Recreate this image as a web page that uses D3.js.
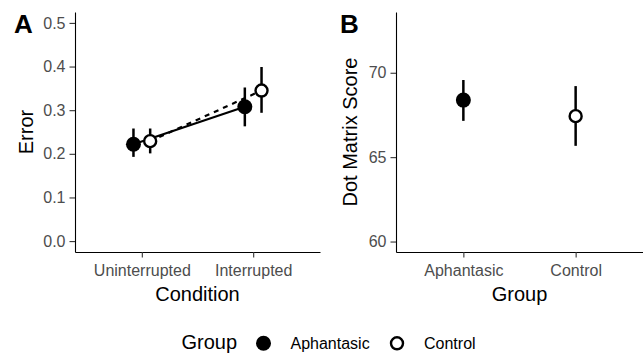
<!DOCTYPE html>
<html>
<head>
<meta charset="utf-8">
<script src="https://cdn.jsdelivr.net/npm/d3@7"></script>
<style>
  body { margin: 0; background: #fff; }
  svg { display: block; font-family: "Liberation Sans", Arial, sans-serif; }
</style>
</head>
<body>
<div id="chart"></div>
<script>
const width = 643;
const height = 354;

// data
const conditions = ['Uninterrupted', 'Interrupted'];
const groups = ['Aphantasic', 'Control'];

const aphErrMean = [0.222, 0.308];
const aphErrLo = [0.193, 0.263];
const aphErrHi = [0.258, 0.352];
const conErrMean = [0.229, 0.345];
const conErrLo = [0.201, 0.294];
const conErrHi = [0.258, 0.399];

const dotMean = [68.38, 67.43];
const dotLo = [67.15, 65.67];
const dotHi = [69.57, 69.21];

const errorTicks = [0, 0.1, 0.2, 0.3, 0.4, 0.5];
const dotTicks = [60, 65, 70];

const svg = d3
  .select('#chart')
  .append('svg')
  .attr('width', width)
  .attr('height', height);

const plotTop = 12;
const plotBottom = 252;
const tickFont = 16;
const titleFont = 20;

function styleAxis(g) {
  g.select('.domain').attr('stroke', '#000').attr('stroke-width', 1.1);
  g.selectAll('.tick line').attr('stroke', '#333').attr('stroke-width', 1.1);
  g.selectAll('.tick text')
    .attr('fill', '#4d4d4d')
    .style('font-size', tickFont + 'px')
    .style('font-family', '"Liberation Sans", Arial, sans-serif');
}

function drawPoint(g, x, y, filled) {
  if (filled) {
    g.append('circle').attr('cx', x).attr('cy', y).attr('r', 7.5).attr('fill', '#000');
  } else {
    g.append('circle')
      .attr('cx', x)
      .attr('cy', y)
      .attr('r', 6)
      .attr('fill', '#fff')
      .attr('stroke', '#000')
      .attr('stroke-width', 2.4);
  }
}

function errBar(g, x, lo, hi) {
  g.append('line')
    .attr('x1', x).attr('x2', x)
    .attr('y1', lo).attr('y2', hi)
    .attr('stroke', '#000')
    .attr('stroke-width', 2.5);
}

// ---------- Panel A ----------
const xA = d3.scalePoint().domain(conditions).range([75, 320]).padding(0.6);
const yA = d3.scaleLinear().domain([-0.025, 0.525]).range([plotBottom, plotTop]);
const dodge = xA.step() * 0.075;

const gA = svg.append('g');
gA.append('g')
  .attr('transform', `translate(75,0)`)
  .call(d3.axisLeft(yA).tickValues(errorTicks).tickFormat(d3.format('.1f')).tickSize(5.5).tickSizeOuter(0).tickPadding(4))
  .call(styleAxis);
gA.append('g')
  .attr('transform', `translate(0,${plotBottom})`)
  .call(d3.axisBottom(xA).tickSize(5.5).tickSizeOuter(0).tickPadding(7))
  .call(styleAxis);

const aphX = conditions.map((c) => xA(c) - dodge);
const conX = conditions.map((c) => xA(c) + dodge);

const line = d3.line();
gA.append('path')
  .attr('d', line(conditions.map((c, i) => [aphX[i], yA(aphErrMean[i])])))
  .attr('fill', 'none')
  .attr('stroke', '#000')
  .attr('stroke-width', 2.2);
gA.append('path')
  .attr('d', line(conditions.map((c, i) => [conX[i], yA(conErrMean[i])])))
  .attr('fill', 'none')
  .attr('stroke', '#000')
  .attr('stroke-width', 2.2)
  .attr('stroke-dasharray', '5,5');

conditions.forEach((c, i) => {
  errBar(gA, aphX[i], yA(aphErrLo[i]), yA(aphErrHi[i]));
  errBar(gA, conX[i], yA(conErrLo[i]), yA(conErrHi[i]));
});
conditions.forEach((c, i) => {
  drawPoint(gA, aphX[i], yA(aphErrMean[i]), true);
  drawPoint(gA, conX[i], yA(conErrMean[i]), false);
});

gA.append('text')
  .attr('x', 197.5)
  .attr('y', 301)
  .attr('text-anchor', 'middle')
  .style('font-size', titleFont + 'px')
  .text('Condition');
gA.append('text')
  .attr('transform', `translate(33,132) rotate(-90)`)
  .attr('text-anchor', 'middle')
  .style('font-size', titleFont + 'px')
  .text('Error');
gA.append('text')
  .attr('x', 14)
  .attr('y', 33)
  .style('font-size', '26px')
  .style('font-weight', 'bold')
  .text('A');

// ---------- Panel B ----------
const xB = d3.scalePoint().domain(groups).range([396, 643]).padding(0.6);
const yB = d3.scaleLinear().domain([59.38, 73.6]).range([plotBottom, plotTop]);

const gB = svg.append('g');
gB.append('g')
  .attr('transform', `translate(396,0)`)
  .call(d3.axisLeft(yB).tickValues(dotTicks).tickSize(5.5).tickSizeOuter(0).tickPadding(4))
  .call(styleAxis);
gB.append('g')
  .attr('transform', `translate(0,${plotBottom})`)
  .call(d3.axisBottom(xB).tickSize(5.5).tickSizeOuter(0).tickPadding(7))
  .call(styleAxis);

groups.forEach((gr, i) => {
  errBar(gB, xB(gr), yB(dotLo[i]), yB(dotHi[i]));
  drawPoint(gB, xB(gr), yB(dotMean[i]), i === 0);
});

gB.append('text')
  .attr('x', 519.5)
  .attr('y', 301)
  .attr('text-anchor', 'middle')
  .style('font-size', titleFont + 'px')
  .text('Group');
gB.append('text')
  .attr('transform', `translate(357,132) rotate(-90)`)
  .attr('text-anchor', 'middle')
  .style('font-size', titleFont + 'px')
  .text('Dot Matrix Score');
gB.append('text')
  .attr('x', 340)
  .attr('y', 33)
  .style('font-size', '26px')
  .style('font-weight', 'bold')
  .text('B');

// ---------- Legend ----------
const legend = svg.append('g');
legend.append('text')
  .attr('x', 181.5)
  .attr('y', 349)
  .style('font-size', titleFont + 'px')
  .text('Group');
const legX = [263.5, 397];
groups.forEach((gr, i) => {
  drawPoint(legend, legX[i], 343.3, i === 0);
  legend.append('text')
    .attr('x', legX[i] + 27)
    .attr('y', 349)
    .style('font-size', tickFont + 'px')
    .text(gr);
});
</script>
</body>
</html>
